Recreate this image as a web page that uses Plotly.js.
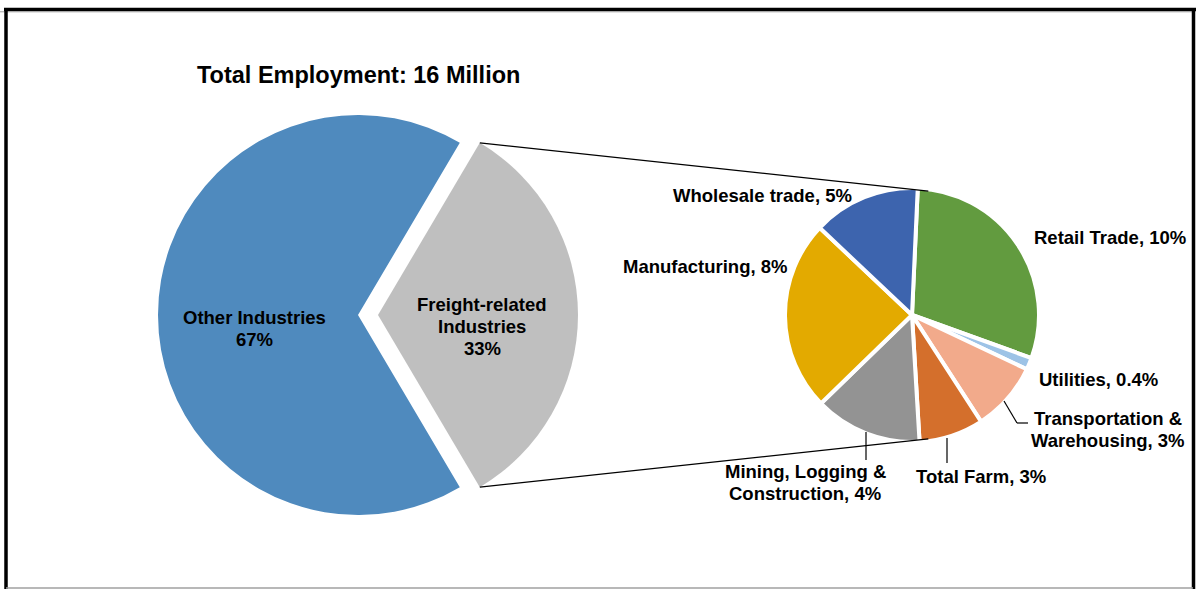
<!DOCTYPE html>
<html><head><meta charset="utf-8">
<script src="https://cdn.plot.ly/plotly-3.0.1.min.js"></script>
<style>html,body{margin:0;padding:0;background:#fff}#chart{width:1196px;height:589px}</style>
</head><body><div id="chart"></div>
<script>
// ---------- data ----------
const chartTitle = "Total Employment: 16 Million";
const mainLabels = ["Other Industries", "Freight-related Industries"];
const mainValues = [67, 33];
const mainPctText = ["67%", "33%"];
const mainColors = ["#4F8ABE", "#BFBFBF"];

const subLabels = ["Retail Trade", "Utilities", "Transportation & Warehousing", "Total Farm",
                   "Mining, Logging & Construction", "Manufacturing", "Wholesale trade"];
const subValues = [9.8, 0.5, 2.9, 2.7, 4.5, 8.0, 4.5];
const subPctText = ["10%", "0.4%", "3%", "3%", "4%", "8%", "5%"];
const subColors = ["#629B3F", "#9DC3E6", "#F2AA8B", "#D46F2C", "#939393", "#E3AA00", "#3D64AE"];

// ---------- layout geometry (pixels) ----------
const W = 1196, H = 589;
const X = v => v / W;
const Y = v => 1 - v / H;
const big = {cx: 358, cy: 315, r: 200, pull: 0.1};
const small = {cx: 912, cy: 315, r: 127, line: 4};
const deg = Math.PI / 180;

const mainTotal = mainValues.reduce((a, b) => a + b, 0);
// rotate so that the freight slice is centred on 3 o'clock
const bigRotation = 90 - 360 * mainValues[0] / mainTotal - 180 * mainValues[1] / mainTotal;

function domainFor(c, r) {
  return {x: [X(c.cx - r), X(c.cx + r)], y: [Y(c.cy + r), Y(c.cy - r)]};
}

const traces = [
  {
    type: "pie", labels: mainLabels, values: mainValues, sort: false,
    direction: "clockwise", rotation: bigRotation,
    pull: [0, big.pull], marker: {colors: mainColors, line: {width: 0}},
    textinfo: "none", hoverinfo: "label+percent", showlegend: false,
    domain: domainFor(big, big.r * (1 + big.pull))
  },
  {
    type: "pie", labels: subLabels, values: subValues, sort: false,
    direction: "clockwise", rotation: 2.6,
    marker: {colors: subColors, line: {color: "#FFFFFF", width: small.line}},
    textinfo: "none", hoverinfo: "label+value", showlegend: false,
    domain: domainFor(small, small.r)
  }
];

// connector lines: from corners of the pulled freight slice to the small pie
const gStart = (bigRotation + 360 * mainValues[0] / mainTotal) * deg;
const gEnd = (bigRotation + 360) * deg;
const gMid = (gStart + gEnd) / 2;
const pcx = big.cx + big.pull * big.r * Math.sin(gMid);
const pcy = big.cy - big.pull * big.r * Math.cos(gMid);
const corner = a => [pcx + big.r * Math.sin(a), pcy - big.r * Math.cos(a)];
const rs = small.r - small.line / 2;
const spt = a => [small.cx + rs * Math.sin(a * deg), small.cy - rs * Math.cos(a * deg)];
const c1 = corner(gStart), c2 = corner(gEnd);
const s1 = spt(7.5), s2 = spt(172.5);

function seg(p, q, color, width) {
  return {type: "line", xref: "paper", yref: "paper", x0: X(p[0]), y0: Y(p[1]), x1: X(q[0]), y1: Y(q[1]),
          line: {color: color, width: width}};
}

const shapes = [
  seg(c1, s1, "#000", 1.2),
  seg(c2, s2, "#000", 1.2),
  // leader lines
  seg([1004, 401], [1017, 423], "#000", 1.2),
  seg([1017, 423], [1028, 423], "#000", 1.2),
  seg([947, 438], [947, 463], "#000", 1.2),
  seg([866, 432], [866, 460], "#000", 1.2),
  // frame
  seg([4, 9.5], [1196, 9.5], "#000", 3.5),
  seg([0, 11.8], [1193, 11.8], "#A0A0A0", 1),
  seg([6, 9], [6, 589], "#000", 3.5),
  seg([1193.5, 9], [1193.5, 589], "#000", 3.5),
  seg([6, 588], [1193, 588], "#A0A0A0", 1.5)
];

const F = "Liberation Sans, Arial, sans-serif";
function ann(text, x, y, size, anchor) {
  return {text: "<b>" + text + "</b>", xref: "paper", yref: "paper", x: X(x), y: Y(y),
          xanchor: anchor || "center", yanchor: "middle", showarrow: false,
          font: {family: F, size: size, color: "#000"}};
}
const LS = 18.5;
const annotations = [
  ann(chartTitle, 358, 75, 23.5),
  ann(mainLabels[0], 254, 317, LS), ann(mainPctText[0], 254, 339, LS),
  ann("Freight-related", 482, 304, LS), ann("Industries", 482, 326, LS), ann(mainPctText[1], 482, 348, LS),
  ann(subLabels[6] + ", " + subPctText[6], 671, 195, LS, "left"),
  ann(subLabels[0] + ", " + subPctText[0], 1032, 237, LS, "left"),
  ann(subLabels[5] + ", " + subPctText[5], 621, 267, LS, "left"),
  ann(subLabels[1] + ", " + subPctText[1], 1037, 379, LS, "left"),
  ann("Transportation &amp;", 1108, 418, LS), ann("Warehousing, " + subPctText[2], 1108, 440, LS),
  ann(subLabels[3] + ", " + subPctText[3], 981, 476, LS),
  ann("Mining, Logging &amp;", 805, 471, LS), ann("Construction, " + subPctText[4], 805, 493, LS)
];

Plotly.newPlot("chart", traces, {
  width: W, height: H, margin: {l: 0, r: 0, t: 0, b: 0},
  paper_bgcolor: "#fff", plot_bgcolor: "#fff",
  shapes: shapes, annotations: annotations, showlegend: false
}, {staticPlot: true});
</script></body></html>
